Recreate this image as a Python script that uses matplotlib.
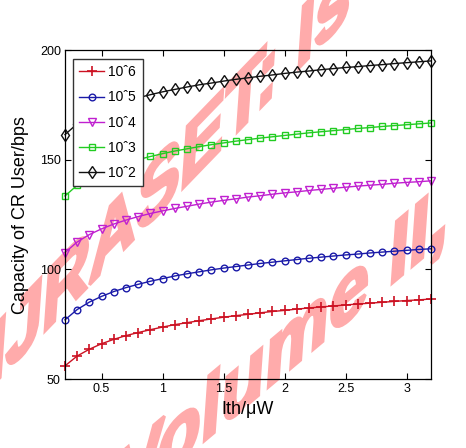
import matplotlib
matplotlib.use("Agg")
import numpy as np
import matplotlib.pyplot as plt
from matplotlib import font_manager
from matplotlib.textpath import TextPath
from matplotlib.font_manager import FontProperties
from matplotlib.patches import PathPatch
from matplotlib.transforms import Affine2D

plt.rcParams['font.family'] = ['Liberation Sans', 'DejaVu Sans']
names = {f.name for f in font_manager.fontManager.ttflist}
narrow = 'Liberation Sans Narrow' if 'Liberation Sans Narrow' in names else 'Liberation Sans'

ith = [0.2, 0.3, 0.4, 0.5, 0.6, 0.7, 0.8, 0.9, 1.0, 1.1, 1.2, 1.3, 1.4, 1.5, 1.6,
       1.7, 1.8, 1.9, 2.0, 2.1, 2.2, 2.3, 2.4, 2.5, 2.6, 2.7, 2.8, 2.9, 3.0, 3.1, 3.2]

cap_1e6 = [56.0, 60.5, 63.6, 66.1, 68.1, 69.8, 71.2, 72.5, 73.7, 74.8, 75.7, 76.6, 77.4, 78.2, 78.9,
           79.5, 80.2, 80.8, 81.3, 81.9, 82.4, 82.9, 83.3, 83.8, 84.2, 84.6, 85.0, 85.4, 85.8, 86.1, 86.5]
cap_1e5 = [77.0, 81.7, 85.1, 87.7, 89.9, 91.7, 93.2, 94.6, 95.8, 97.0, 98.0, 98.9, 99.8, 100.6, 101.3,
           102.0, 102.7, 103.3, 103.9, 104.5, 105.1, 105.6, 106.1, 106.6, 107.0, 107.5, 107.9, 108.3, 108.7, 109.1, 109.4]
cap_1e4 = [107.7, 112.5, 115.9, 118.5, 120.7, 122.5, 124.1, 125.5, 126.7, 127.8, 128.8, 129.8, 130.7, 131.5, 132.2,
           133.0, 133.6, 134.3, 134.9, 135.4, 136.0, 136.5, 137.0, 137.5, 138.0, 138.4, 138.8, 139.3, 139.7, 140.0, 140.4]
cap_1e3 = [133.5, 138.4, 141.8, 144.5, 146.7, 148.5, 150.1, 151.5, 152.8, 154.0, 155.0, 156.0, 156.9, 157.7, 158.5,
           159.2, 159.9, 160.5, 161.1, 161.7, 162.3, 162.8, 163.3, 163.8, 164.3, 164.7, 165.2, 165.6, 166.0, 166.4, 166.8]
cap_1e2 = [161.5, 166.4, 169.9, 172.6, 174.8, 176.7, 178.3, 179.7, 181.0, 182.1, 183.2, 184.2, 185.0, 185.9, 186.7,
           187.4, 188.1, 188.7, 189.4, 190.0, 190.5, 191.1, 191.6, 192.1, 192.5, 193.0, 193.4, 193.9, 194.3, 194.7, 195.1]

labels = ['10\u02c66', '10\u02c65', '10\u02c64', '10\u02c63', '10\u02c62']
xticks = [0.5, 1, 1.5, 2, 2.5, 3]
xticklabels = ['0.5', '1', '1.5', '2', '2.5', '3']
yticks = [50, 100, 150, 200]
watermark_lines = ['IJRASET: Is', 'Volume II, I']

W, H = 466, 448
fig = plt.figure(figsize=(W / 100, H / 100), dpi=100)
ax = fig.add_axes([0.1395, 0.154, 0.7855, 0.734])
ax.patch.set_alpha(0)

series = [
    (cap_1e6, '#cc1122', '+', dict(markersize=6.5, markeredgewidth=1.2)),
    (cap_1e5, '#1a1aa8', 'o', dict(markersize=4.8, markerfacecolor='none')),
    (cap_1e4, '#c020d0', 'v', dict(markersize=5.2, markerfacecolor='none')),
    (cap_1e3, '#22cc22', 's', dict(markersize=4.6, markerfacecolor='none')),
    (cap_1e2, '#111111', 'd', dict(markersize=6.5, markerfacecolor='none')),
]
for (vals, col, mk, kw), lab in zip(series, labels):
    ax.plot(ith, vals, color=col, marker=mk, lw=1.0, label=lab, clip_on=False, **kw)

ax.set_xlim(0.2, 3.2)
ax.set_ylim(50, 200)
ax.set_xticks(xticks)
ax.set_xticklabels(xticklabels, family=narrow)
ax.set_yticks(yticks)
ax.set_yticklabels([str(v) for v in yticks], family=narrow)
ax.tick_params(direction='in', top=True, right=True, length=4, width=0.8,
               labelsize=9, pad=3)
for s in ax.spines.values():
    s.set_linewidth(0.9)

ax.set_xlabel('Ith/\u03bcW', fontsize=13, labelpad=4)
ax.set_ylabel('Capacity of CR User/bps', fontsize=13, labelpad=8)

leg = ax.legend(loc='upper left', bbox_to_anchor=(0.022, 0.973),
                prop={'family': narrow, 'size': 10},
                frameon=True, fancybox=False, edgecolor='#333333', framealpha=1,
                handlelength=1.8, borderpad=0.45, labelspacing=0.8, handletextpad=0.3,
                borderaxespad=0)
leg.get_frame().set_linewidth(1.0)


def watermark(text, idx, target, base_deg, vert_deg, a, b, lw):
    fp = FontProperties(family='Liberation Sans', weight='bold')
    path = TextPath((0, 0), text, size=1, prop=fp)
    x_left = TextPath((0, 0), text[:idx], size=1, prop=fp).get_extents().x1 if idx else 0
    x_right = TextPath((0, 0), text[:idx + 1], size=1, prop=fp).get_extents().x1
    xc, yc = (x_left + x_right) / 2, 0.36
    th, ph = np.radians(base_deg), np.radians(vert_deg)
    M = np.array([[a * np.cos(th), b * np.cos(ph), 0],
                  [a * np.sin(th), b * np.sin(ph), 0],
                  [0, 0, 1]])
    px = M[0, 0] * xc + M[0, 1] * yc
    py = M[1, 0] * xc + M[1, 1] * yc
    tr = Affine2D(M).translate(target[0] - px, (H - target[1]) - py)
    patch = PathPatch(path, transform=tr, facecolor='#ffabab', edgecolor='#ffabab',
                      linewidth=lw, joinstyle='miter', zorder=-5)
    fig.add_artist(patch)


watermark(watermark_lines[0], 4, (157, 185), 46, 86, 94, 90, 2.2)
watermark(watermark_lines[1], 4, (293, 336), 40, 86, 94, 90, 2.2)

fig.savefig('out.png', dpi=100)
